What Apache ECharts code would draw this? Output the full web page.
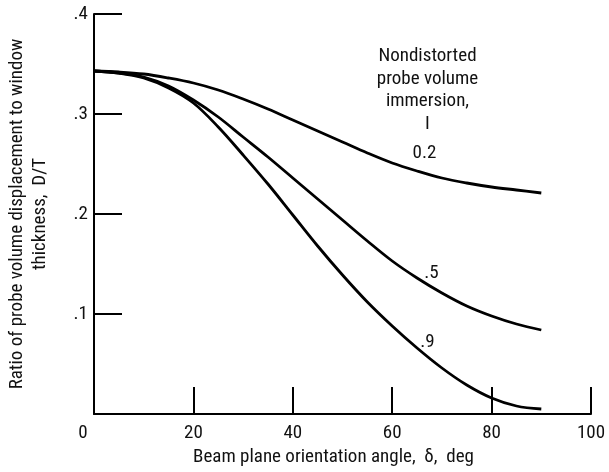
<!DOCTYPE html>
<html>
<head>
<meta charset="utf-8">
<script src="https://cdn.jsdelivr.net/npm/echarts@6/dist/echarts.min.js"></script>
<style>
html,body{margin:0;padding:0;background:#fff;}
#chart{width:609px;height:472px;}
</style>
</head>
<body>
<div id="chart"></div>
<script>
// Data
var angles = [0,5,10,15,20,25,30,35,40,45,50,55,60,65,70,75,80,85,90];
var ratioI02 = [0.343,0.342,0.340,0.336,0.331,0.324,0.315,0.305,0.294,0.283,0.272,0.261,0.251,0.243,0.236,0.231,0.227,0.224,0.221];
var ratioI05 = [0.343,0.341,0.337,0.328,0.314,0.297,0.277,0.257,0.236,0.215,0.194,0.173,0.153,0.136,0.121,0.108,0.098,0.090,0.084];
var ratioI09 = [0.343,0.341,0.336,0.326,0.311,0.287,0.259,0.230,0.199,0.168,0.139,0.112,0.088,0.066,0.046,0.029,0.016,0.008,0.005];
var seriesNames = ['0.2', '.5', '.9'];
var xTickLabels = {0:'0',20:'20',40:'40',60:'60',80:'80',100:'100'};
var yTickLabels = {0:'',1:'.1',2:'.2',3:'.3',4:'.4'};
var xTitle = 'Beam plane orientation angle,  \u03b4,  deg';
var yTitle = 'Ratio of probe volume displacement to window\nthickness,  D/T';
var legendTitle = 'Nondistorted\nprobe volume\nimmersion,\nI';
// label anchors (data coordinates)
var labelAnchors = [[66.5,0.261],[67.9,0.141],[67.1,0.072]];
var legendAnchor = [67.1,0.324];

var FONT = "'Roboto Condensed','DejaVu Sans Condensed',sans-serif";
function pairs(ys){ return angles.map(function(a,i){return [a, ys[i]];}); }

var chart = echarts.init(document.getElementById('chart'), null, {renderer:'canvas'});
var allY = [ratioI02, ratioI05, ratioI09];
var series = allY.map(function(ys, i){
  var s = {
    name: seriesNames[i],
    type: 'line',
    data: pairs(ys),
    smooth: 0.35,
    showSymbol: false,
    symbol: 'none',
    lineStyle: {color:'#000', width:2.8},
    animation: false,
    markPoint: {
      symbol: 'rect', symbolSize: 0,
      label: {show:true, color:'#111', fontFamily:FONT, fontSize:19},
      data: [{coord: labelAnchors[i], value: seriesNames[i],
        label:{formatter: seriesNames[i]}}]
    }
  };
  if (i === 0) {
    s.markPoint.data.push({coord: legendAnchor, value: 0,
      label:{formatter: legendTitle, lineHeight:22.5, align:'center'}});
  }
  return s;
});

chart.setOption({
  backgroundColor:'#fff',
  animation:false,
  grid:{left:94, right:18, top:14, bottom:58, containLabel:false, outerBoundsMode:'none'},
  xAxis:{
    type:'value', min:0, max:100, interval:20,
    name: xTitle, nameLocation:'middle', nameGap:33,
    nameTextStyle:{color:'#111', fontFamily:FONT, fontSize:19, padding:[0,18,0,0]},
    axisLine:{show:true, onZero:false, lineStyle:{color:'#000', width:2}},
    axisTick:{show:true, inside:true, length:27, lineStyle:{color:'#000', width:2}},
    axisLabel:{color:'#111', fontFamily:FONT, fontSize:19, margin:10,
      formatter:function(v){ return v===0 ? '{z|0}' : (xTickLabels[v]||''); },
      rich:{z:{fontFamily:FONT, fontSize:19, color:'#111', padding:[0,22,0,0]}}},
    splitLine:{show:false}
  },
  yAxis:{
    type:'value', min:0, max:0.4, interval:0.1,
    name: yTitle, nameLocation:'middle', nameGap:42, nameRotate:90,
    nameTextStyle:{color:'#111', fontFamily:FONT, fontSize:19, lineHeight:23, padding:[0,0,0,0]},
    axisLine:{show:true, onZero:false, lineStyle:{color:'#000', width:2}},
    axisTick:{show:true, inside:true, length:28, lineStyle:{color:'#000', width:2}},
    axisLabel:{color:'#111', fontFamily:FONT, fontSize:19, margin:6,
      formatter:function(v){ return yTickLabels[Math.round(v*10)]; }},
    splitLine:{show:false}
  },
  series: series
});
</script>
</body>
</html>
